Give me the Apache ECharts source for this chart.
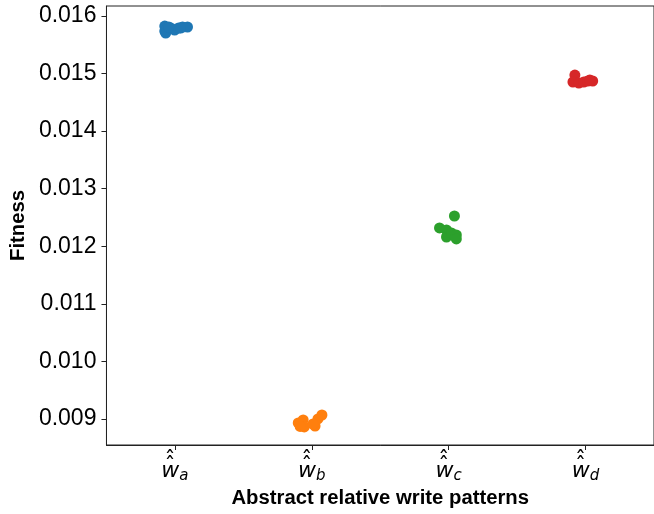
<!DOCTYPE html>
<html><head><meta charset="utf-8">
<script src="https://cdn.jsdelivr.net/npm/echarts@6/dist/echarts.min.js"></script>
<style>html,body{margin:0;padding:0;background:#fff}#c{width:654px;height:514px}</style>
</head><body><div id="c"></div>
<script>
const categories = ['a', 'b', 'c', 'd'];
const xTicks = [0, 1, 2, 3];
const yTicks = [0.009, 0.010, 0.011, 0.012, 0.013, 0.014, 0.015, 0.016];
const colors = ['#1f77b4', '#ff7f0e', '#2ca02c', '#d62728'];

const jitterA = [-0.074, -0.074, -0.067, -0.031, -0.002, 0.027, 0.056, 0.092, 0.041, -0.045];
const valuesA = [0.015826, 0.015739, 0.015705, 0.015792, 0.015757, 0.015792, 0.015809, 0.015809, 0.015792, 0.015809];

const jitterB = [-0.099, -0.063, -0.055, 0.024, 0.045, 0.074, 0.009, -0.085];
const valuesB = [0.008931, 0.008983, 0.008861, 0.008878, 0.009000, 0.009069, 0.008913, 0.008870];

const jitterC = [-0.067, -0.016, -0.016, 0.020, 0.056, 0.056, 0.042];
const valuesC = [0.012318, 0.012283, 0.012161, 0.012231, 0.012196, 0.012127, 0.012526];

const jitterD = [-0.078, -0.092, -0.049, -0.013, 0.016, 0.052, 0.031];
const valuesD = [0.014975, 0.014854, 0.014836, 0.014854, 0.014871, 0.014871, 0.014888];

const groups = [[jitterA, valuesA], [jitterB, valuesB], [jitterC, valuesC], [jitterD, valuesD]];

const chart = echarts.init(document.getElementById('c'), null, {renderer: 'canvas'});
const axisLineStyle = {color: '#222', width: 1};
const caretAxis = (margin) => ({
  type: 'value', min: -0.5, max: 3.5, position: 'bottom',
  axisLine: {show: false}, axisTick: {show: false}, splitLine: {show: false},
  axisLabel: {customValues: xTicks, margin: margin, formatter: () => '{h|\u02C6}',
    rich: {h: {fontFamily: 'DejaVu Sans', fontSize: 22, color: '#000', padding: [0, 10, 0, 0]}}}
});
chart.setOption({
  animation: false,
  grid: {left: 103, top: 6, width: 554, height: 439, containLabel: false,
    show: true, borderColor: '#222', borderWidth: 1},
  xAxis: [{
    type: 'value', min: -0.5, max: 3.5, position: 'bottom',
    name: 'Abstract relative write patterns', nameLocation: 'middle', nameGap: 42,
    nameTextStyle: {fontFamily: 'Liberation Sans', fontWeight: 'bold', fontSize: 20.3, color: '#000'},
    axisLine: {show: true, onZero: false, lineStyle: axisLineStyle},
    axisTick: {show: true, length: 5, lineStyle: axisLineStyle, customValues: xTicks},
    axisLabel: {
      customValues: xTicks, margin: 14,
      formatter: v => '{w|w}{s|' + categories[Math.round(v)] + '}',
      rich: {
        w: {fontFamily: 'DejaVu Sans', fontStyle: 'italic', fontSize: 22, lineHeight: 22, color: '#000'},
        s: {fontFamily: 'DejaVu Sans', fontStyle: 'italic', fontSize: 15, color: '#000', padding: [10, 0, 0, 0]}
      }
    },
    splitLine: {show: false}
  }, caretAxis(4), caretAxis(10)],
  yAxis: {
    type: 'value', min: 0.008548, max: 0.016174,
    name: 'Fitness', nameLocation: 'middle', nameGap: 78, nameRotate: 90,
    nameTextStyle: {fontFamily: 'Liberation Sans', fontWeight: 'bold', fontSize: 20.3, color: '#000'},
    axisLine: {show: true, onZero: false, lineStyle: axisLineStyle},
    axisTick: {show: true, length: 5, lineStyle: axisLineStyle, customValues: yTicks},
    axisLabel: {customValues: yTicks, margin: 10, formatter: v => v.toFixed(3),
      fontFamily: 'Liberation Sans', fontSize: 23, color: '#000'},
    splitLine: {show: false}
  },
  series: groups.map((g, i) => ({
    type: 'scatter', symbolSize: 11, xAxisIndex: 0,
    itemStyle: {color: colors[i], opacity: 1},
    data: g[0].map((j, k) => [i + j, g[1][k]])
  }))
});
</script></body></html>
